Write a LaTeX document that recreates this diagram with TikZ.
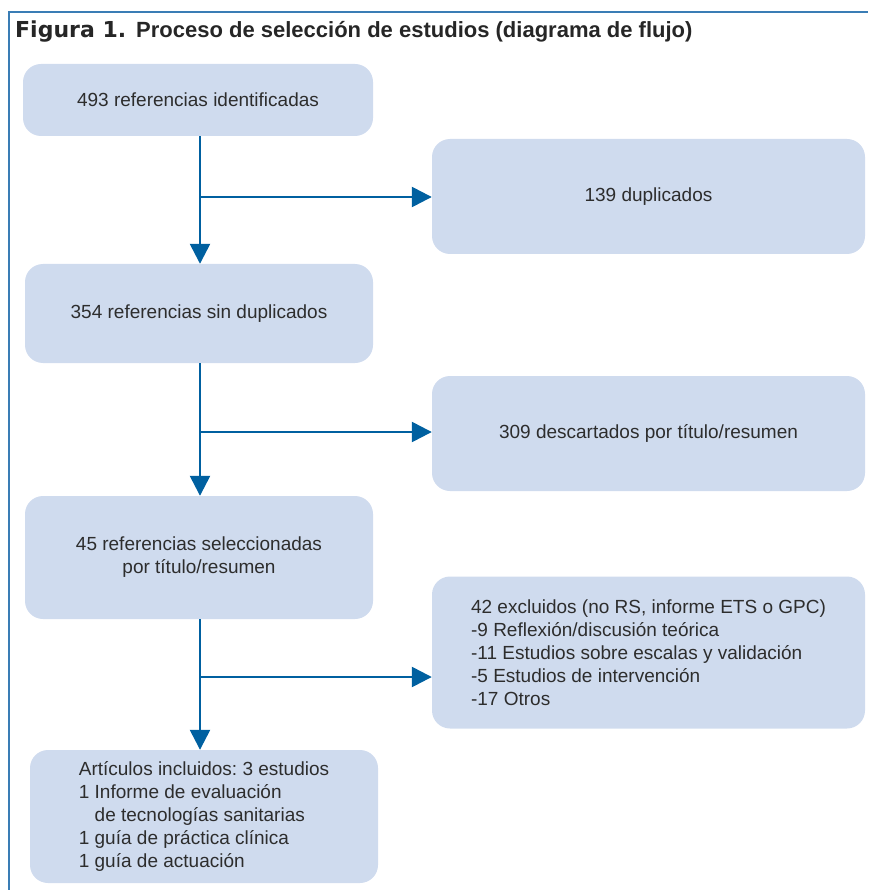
\documentclass[tikz,border=0pt]{standalone}
\usepackage{fontspec}
\setmainfont{Liberation Sans}
\newfontfamily\figfont{DejaVu Sans}
\usetikzlibrary{arrows.meta,positioning,calc}
\frenchspacing
\definecolor{boxblue}{RGB}{207,219,238}
\definecolor{arrowblue}{RGB}{0,96,160}
\definecolor{frameblue}{RGB}{58,125,181}
\definecolor{textgray}{RGB}{45,45,45}
\tikzstyle{refbox} = [rectangle, rounded corners=18pt, inner sep=0pt, fill=boxblue, text=textgray, font=\fontsize{19}{23}\selectfont]
\tikzstyle{arrow}  = [line width=2.5pt, draw=arrowblue, -{Triangle[length=20pt,width=20pt]}, arrowblue]

\begin{document}
\begin{tikzpicture}[x=1pt, y=-1pt]
        \useasboundingbox (0,0) rectangle (868,890);
        \draw [frameblue, line width=2pt] (9,890) -- (9,12) -- (868,12);
        \node (title) [anchor=west, inner sep=0pt, font=\fontsize{22}{26}\selectfont\bfseries, text=black!85] at (15,32) {{\figfont\bfseries Figura 1.}\hspace{10pt}Proceso de selección de estudios (diagrama de flujo)};

        \node (ident) [refbox, minimum width=350, minimum height=72] at (198,100) {493 referencias identificadas};
        \node (dupl) [refbox, minimum width=433, minimum height=115] at (648.5,196.5) {139 duplicados};
        \node (sindup) [refbox, minimum width=348, minimum height=99] at (199,313.5) {354 referencias sin duplicados};
        \node (descart) [refbox, minimum width=433, minimum height=115] at (648.5,433.5) {309 descartados por título/resumen};
        \node (selec) [refbox, minimum width=348, minimum height=123, align=center] at (199,557.5) {45 referencias seleccionadas\\por título/resumen};
        \node (exclu) [refbox, minimum width=433, minimum height=152, align=left] at (648.5,652.5) {42 excluidos (no RS, informe ETS o GPC)\\-9 Reflexión/discusión teórica\\-11 Estudios sobre escalas y validación\\-5 Estudios de intervención\\-17 Otros};
        \node (inclu) [refbox, minimum width=348, minimum height=133, align=left] at (204,816.5) {Artículos incluidos: 3 estudios\\1 Informe de evaluación\\\phantom{1 }de tecnologías sanitarias\\1 guía de práctica clínica\\1 guía de actuación};

        % junctions on the main line
        \coordinate (j1) at (200,197);
        \coordinate (j2) at (200,432);
        \coordinate (j3) at (200,677);

        \draw [arrow] (j1 |- ident.south) -- (j1 |- sindup.north);
        \draw [arrow] (j1) -- (j1 -| dupl.west);
        \draw [arrow] (j2 |- sindup.south) -- (j2 |- selec.north);
        \draw [arrow] (j2) -- (j2 -| descart.west);
        \draw [arrow] (j3 |- selec.south) -- (j3 |- inclu.north);
        \draw [arrow] (j3) -- (j3 -| exclu.west);
    \end{tikzpicture}
\end{document}
